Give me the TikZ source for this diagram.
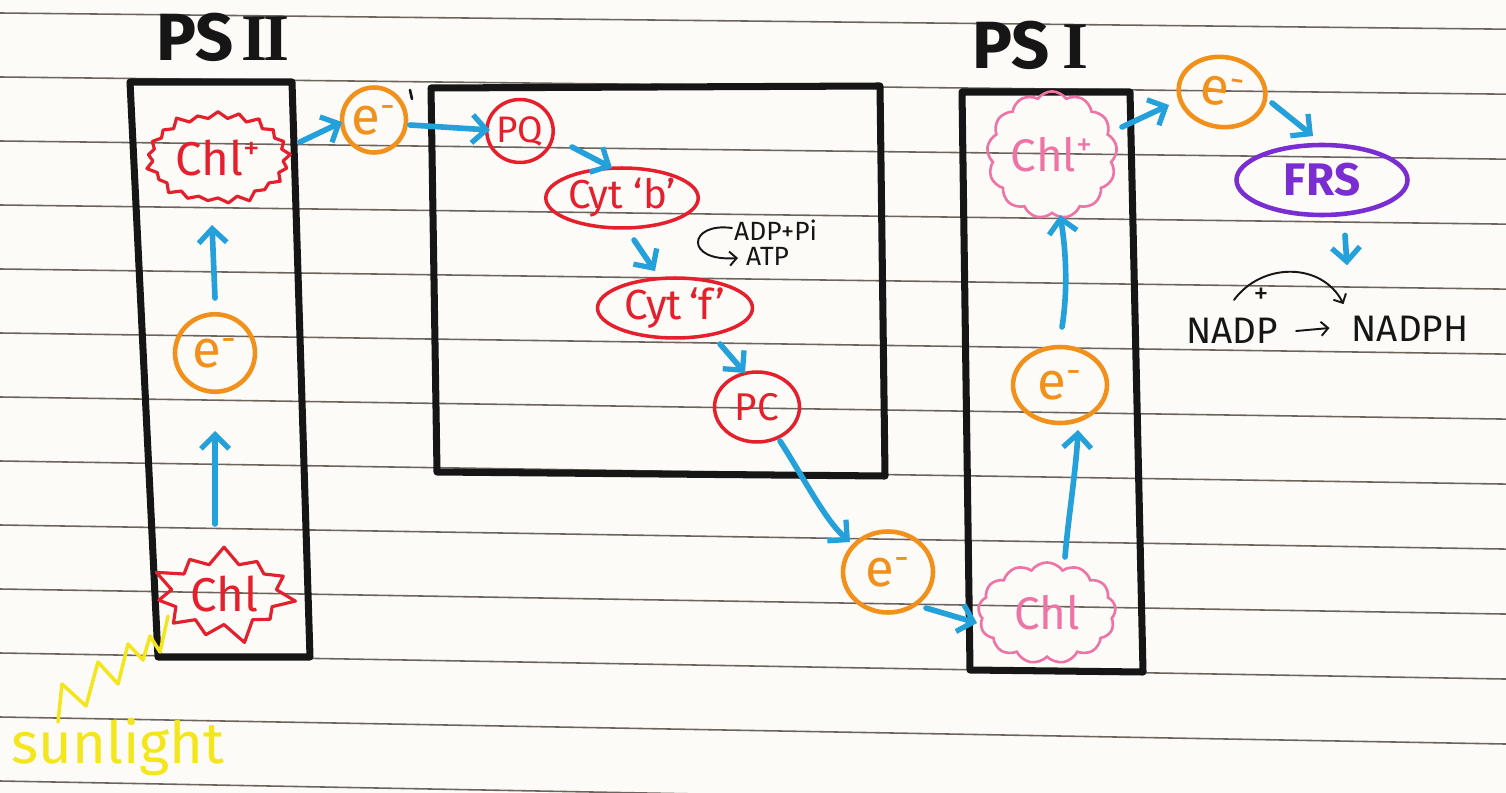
\documentclass[tikz,border=0pt]{standalone}
\usepackage{fontspec}
\setmainfont{Fira Sans}
\newfontfamily\numfont{Liberation Serif}
\usetikzlibrary{arrows.meta,shapes.symbols,shapes.geometric,calc}

\definecolor{paper}{HTML}{FCFBF8}
\definecolor{ruling}{HTML}{6E645E}
\definecolor{ink}{HTML}{161616}
\definecolor{inkred}{HTML}{E5202C}
\definecolor{inkorange}{HTML}{F2901C}
\definecolor{inkpink}{HTML}{EE74A6}
\definecolor{inkpurple}{HTML}{7A2ED2}
\definecolor{inkblue}{HTML}{24A0DA}
\definecolor{inkyellow}{HTML}{F3E61C}

\begin{document}
\begin{tikzpicture}[x=0.02cm,y=-0.02cm,
  frame/.style={draw=ink, line width=4pt, line join=round, line cap=round},
  flow/.style={draw=inkblue, line width=3.2pt, line cap=round,
    -{Straight Barb[length=8pt,width=16pt,line width=3pt]}},
  pen/.style={draw=ink, line width=1.1pt, line cap=round,
    -{Straight Barb[length=4pt,width=8pt,line width=1.1pt]}},
  redburst/.style={starburst, draw=inkred, line width=1.8pt, line join=round,
    text=inkred, font=\fontsize{27}{27}\selectfont, inner sep=2pt},
  redring/.style={ellipse, draw=inkred, line width=2pt, text=inkred,
    inner sep=0pt},
  elec/.style={ellipse, draw=inkorange, line width=2.6pt, text=inkorange,
    font=\fontsize{30}{30}\selectfont, inner sep=0pt},
  pinkcloud/.style={cloud, cloud puffs=13, cloud puff arc=110, draw=inkpink,
    line width=1.5pt, text=inkpink, font=\fontsize{26}{26}\selectfont,
    inner sep=0pt},
  title/.style={text=ink, font=\fontsize{38}{38}\selectfont\bfseries},
  note/.style={text=ink, font=\fontsize{15}{15}\selectfont},
  eqn/.style={text=ink, font=\fontsize{21}{21}\selectfont},
]
\fill[paper] (0,0) rectangle (1506,793);
\useasboundingbox (0,0) rectangle (1506,793);

% ruled notebook lines, the page curls slightly towards the bottom
\foreach \y in {13,77,...,781}
  \draw[ruling, line width=0.9pt] (0,\y) -- (1506,{\y+16+12*\y/781});

% membrane complexes
\draw[frame] (130,82) -- (292,82) -- (310,657) -- (158,657) -- cycle;
\draw[frame] (431,88) -- (880,86) -- (885,476) -- (437,472) -- cycle;
\draw[frame] (962,92) -- (1130,92) -- (1143,672) -- (970,670) -- cycle;

% titles
\node[title, anchor=south west] (ps2) at (150,68) {PS\hspace{0.12em}{\numfont\bfseries I\kern-0.06em I}};
\node[title, anchor=south west] (ps1) at (966,76) {PS\hspace{0.2em}{\numfont\bfseries I}};

% photosystem II
\node[redburst, starburst points=21, starburst point height=5pt,
      minimum width=2.55cm, minimum height=1.95cm] (chlp2) at (218,158) {Chl\textsuperscript{+}};
\node[elec, minimum width=1.6cm, minimum height=1.55cm] (e1) at (215,353) {e\textsuperscript{-}};
\node[redburst, starburst points=11, starburst point height=13pt,
      minimum width=2.3cm, minimum height=1.9cm] (chl2) at (224,594) {Chl};

% light input
\node[text=inkyellow, font=\fontsize{33}{33}\selectfont] (sun) at (118,747) {sunlight};
\draw[inkyellow, line width=2pt, line join=round, line cap=round]
  (58,722) -- (62,684) -- (86,706) -- (98,662) -- (118,684) -- (128,644)
  -- (143,660) -- (150,636) -- (160,652) -- (168,616);

% electron transport chain
\node[elec, minimum width=1.28cm, minimum height=1.3cm] (e2) at (374,120) {e\textsuperscript{-}};
\draw[ink, line width=1.5pt, line cap=round] ($(e2)+(36,-30)$) -- ($(e2)+(38,-21)$);
\node[redring, minimum width=1.1cm, minimum height=1.26cm,
      font=\fontsize{21}{21}\selectfont] (pq) at (520,131) {PQ};
\node[redring, minimum width=2.8cm, minimum height=1.2cm,
      font=\fontsize{23}{23}\selectfont] (cytb) at (622,198) {Cyt `b'};
\node[redring, minimum width=3.1cm, minimum height=1.2cm,
      font=\fontsize{24}{24}\selectfont] (cytf) at (675,308) {Cyt\,`f'};
\node[redring, minimum width=1.7cm, minimum height=1.4cm,
      font=\fontsize{22}{22}\selectfont] (pc) at (757,407) {PC};

% photophosphorylation
\node[note, anchor=west] (adp) at (728,230) {ADP+Pi};
\node[note, anchor=west] (atp) at (740,256) {ATP};
\draw[pen] ($(adp.west)+(4,-2)$) .. controls (688,222) and (684,262) .. ($(atp.west)+(-2,2)$);

\node[elec, minimum width=1.8cm, minimum height=1.62cm] (e3) at (888,572) {e\textsuperscript{-}};

% photosystem I
\node[pinkcloud, minimum width=2.75cm, minimum height=1.86cm] (chl1) at (1047,613) {Chl};
\node[elec, minimum width=1.88cm, minimum height=1.52cm] (e4) at (1060,385) {e\textsuperscript{-}};
\node[pinkcloud, minimum width=2.6cm, minimum height=2.0cm] (chlp1) at (1052,155) {Chl\textsuperscript{+}};

\node[elec, minimum width=1.74cm, minimum height=1.4cm, rotate=-8] (e5) at (1222,92) {e\textsuperscript{-}};
\node[ellipse, draw=inkpurple, line width=2.6pt, text=inkpurple,
      minimum width=3.42cm, minimum height=1.4cm, inner sep=0pt,
      font=\fontsize{26}{26}\selectfont\bfseries] (frs) at (1322,180) {FRS};

% NADP reduction
\node[eqn, inner sep=0pt] (nadp) at (1232,331) {NADP};
\node[eqn, inner sep=0pt, font=\fontsize{17}{17}\selectfont] (plus) at (1261,296) {+};
\node[eqn] (nadph) at (1410,329) {NADPH};
\draw[pen] ($(nadp.east)+(18,0)$) -- ($(nadph.west)+(-16,-1)$);
\draw[pen] ($(nadp.north)+(2,-18)$) .. controls (1262,262) and (1322,262) .. ($(nadph.north west)+(-2,-6)$);

% electron flow arrows
\draw[flow] ($(e1)+(0,-55)$) -- ($(chlp2)+(-6,67)$);
\draw[flow] ($(chl2)+(-9,-70)$) -- ($(e1)+(0,78)$);
\draw[flow] ($(chlp2)+(82,-16)$) -- ($(e2)+(-32,2)$);
\draw[flow] ($(e2)+(36,5)$) -- ($(pq)+(-30,-1)$);
\draw[flow] ($(pq)+(52,16)$) -- ($(cytb)+(-10,-30)$);
\draw[flow] ($(cytb)+(12,42)$) -- ($(cytf)+(-20,-37)$);
\draw[flow] ($(cytf)+(45,36)$) -- ($(pc)+(-12,-34)$);
\draw[flow] ($(pc)+(23,34)$) .. controls (805,480) and (825,520) .. ($(e3)+(-38,-30)$);
\draw[flow] ($(e3)+(38,36)$) -- ($(chl1)+(-70,10)$);
\draw[flow] ($(chl1)+(18,-56)$) .. controls (1068,520) and (1076,470) .. ($(e4)+(18,45)$);
\draw[flow] ($(e4)+(2,-58)$) .. controls (1068,290) and (1066,250) .. ($(chlp1)+(8,60)$);
\draw[flow] ($(chlp1)+(70,-28)$) -- ($(e5)+(-53,13)$);
\draw[flow] ($(e5)+(50,11)$) -- ($(frs)+(-9,-44)$);
\draw[flow] ($(frs.south)+(23,18)$) -- ($(frs.south)+(25,48)$);
\end{tikzpicture}
\end{document}
